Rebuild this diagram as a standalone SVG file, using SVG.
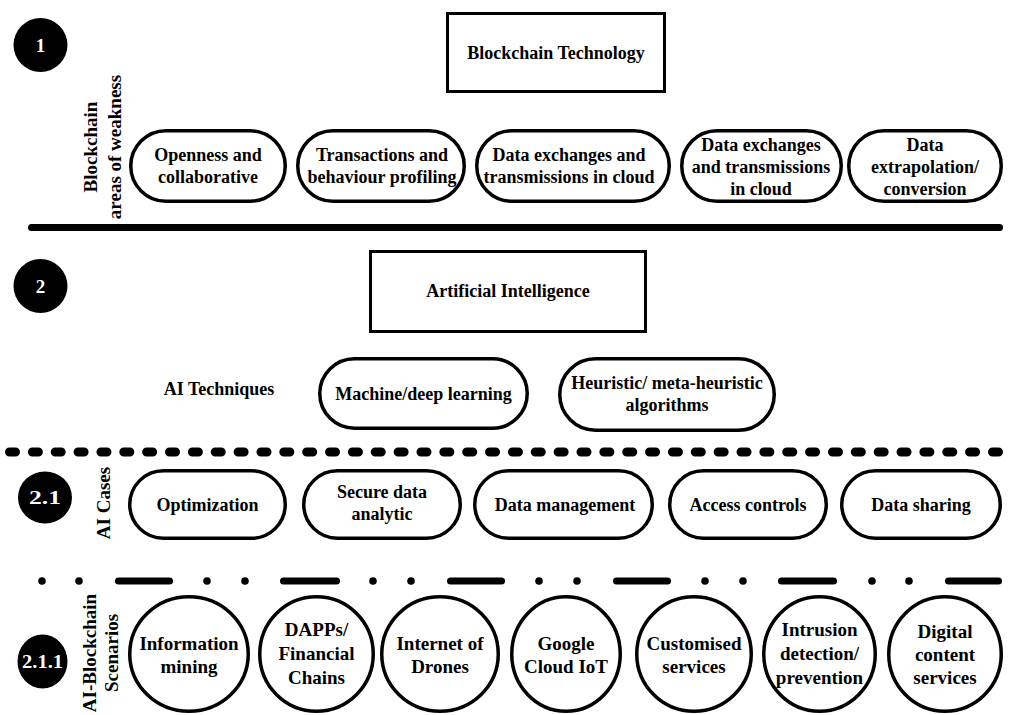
<svg xmlns="http://www.w3.org/2000/svg" width="1012" height="715" viewBox="0 0 1012 715">
<style>
text{font-family:"Liberation Serif","Times New Roman",serif;font-weight:bold;fill:#000;}
.t{font-size:18px;text-anchor:middle;}
.s{font-size:19px;text-anchor:middle;}
.v{font-size:19px;text-anchor:middle;}
.n{font-size:19px;text-anchor:middle;fill:#fff;}
.pill{fill:#fff;stroke:#000;stroke-width:3.5;}
.box{fill:#fff;stroke:#000;stroke-width:3;}
.num{fill:#000;}
</style>
<rect width="1012" height="715" fill="#fff"/>
<g id="separators">
<line x1="31.5" y1="227.5" x2="999.5" y2="227.5" stroke="#000" stroke-width="7" stroke-linecap="round"/>
<path d="M9.5 452 H999" fill="none" stroke="#000" stroke-width="9" stroke-linecap="round" stroke-dasharray="6 16.86"/>
<g fill="#000">
<circle cx="42" cy="581" r="3.8"/><circle cx="79" cy="581" r="3.8"/>
<circle cx="207" cy="581" r="3.8"/><circle cx="245" cy="581" r="3.8"/>
<circle cx="373" cy="581" r="3.8"/><circle cx="411" cy="581" r="3.8"/>
<circle cx="539" cy="581" r="3.8"/><circle cx="577" cy="581" r="3.8"/>
<circle cx="705" cy="581" r="3.8"/><circle cx="743" cy="581" r="3.8"/>
<circle cx="872" cy="581" r="3.8"/><circle cx="909" cy="581" r="3.8"/>
</g>
<g stroke="#000" stroke-width="7" stroke-linecap="round">
<line x1="118.5" y1="581" x2="169.5" y2="581"/>
<line x1="283.5" y1="581" x2="336.5" y2="581"/>
<line x1="450.5" y1="581" x2="501.5" y2="581"/>
<line x1="616.5" y1="581" x2="667.5" y2="581"/>
<line x1="781.5" y1="581" x2="833.5" y2="581"/>
<line x1="948.5" y1="581" x2="998.5" y2="581"/>
</g>
</g>
<g id="connectors"></g>

<g id="marker1"><circle class="num" cx="40.5" cy="45" r="27"/><text class="n" x="40.5" y="51.5">1</text></g>
<g id="marker2"><circle class="num" cx="40.5" cy="286" r="27"/><text class="n" x="40.5" y="292.5">2</text></g>
<g id="marker21"><ellipse class="num" cx="45" cy="497.5" rx="27" ry="26"/><text class="n" x="45" y="504" textLength="32" lengthAdjust="spacingAndGlyphs">2.1</text></g>
<g id="marker211"><ellipse class="num" cx="42.5" cy="661.5" rx="25" ry="27"/><text class="n" x="42.5" y="668" textLength="41" lengthAdjust="spacingAndGlyphs">2.1.1</text></g>

<g id="label-weakness">
<text class="v" transform="translate(97 147) rotate(-90)">Blockchain</text>
<text class="v" transform="translate(121 147) rotate(-90)">areas of weakness</text>
</g>
<g id="label-cases"><text class="v" transform="translate(110 503) rotate(-90)">AI Cases</text></g>
<g id="label-scenarios">
<text class="v" transform="translate(96 653) rotate(-90)">AI-Blockchain</text>
<text class="v" transform="translate(118 653) rotate(-90)">Scenarios</text>
</g>
<g id="label-techniques"><text class="t" x="219" y="395">AI Techniques</text></g>

<g id="blockchain"><rect class="box" x="447.5" y="13.5" width="217" height="78"/><text class="t" x="556" y="59">Blockchain Technology</text></g>
<g id="w1"><rect class="pill" x="130.75" y="130.75" width="154.5" height="70.5" rx="35.25"/><text class="t" x="208" y="161">Openness and</text><text class="t" x="208" y="183">collaborative</text></g>
<g id="w2"><rect class="pill" x="297.75" y="130.75" width="166.5" height="70.5" rx="35.25"/><text class="t" x="382" y="161">Transactions and</text><text class="t" x="382" y="183">behaviour profiling</text></g>
<g id="w3"><rect class="pill" x="476.75" y="130.75" width="192.5" height="70.5" rx="35.25"/><text class="t" x="569" y="161">Data exchanges and</text><text class="t" x="569" y="183">transmissions in cloud</text></g>
<g id="w4"><rect class="pill" x="681.75" y="130.75" width="159.5" height="70.5" rx="35.25"/><text class="t" x="761" y="151">Data exchanges</text><text class="t" x="761" y="173">and transmissions</text><text class="t" x="761" y="195">in cloud</text></g>
<g id="w5"><rect class="pill" x="848.75" y="130.75" width="152.5" height="70.5" rx="35.25"/><text class="t" x="925" y="151">Data</text><text class="t" x="925" y="173">extrapolation/</text><text class="t" x="925" y="195">conversion</text></g>

<g id="ai"><rect class="box" x="370.5" y="251.5" width="275" height="80"/><text class="t" x="508" y="297">Artificial Intelligence</text></g>
<g id="tech1"><rect class="pill" x="319.75" y="358.75" width="207.5" height="69.5" rx="34.75"/><text class="t" x="423.5" y="400">Machine/deep learning</text></g>
<g id="tech2"><rect class="pill" x="559.75" y="358.75" width="214.5" height="71.5" rx="35.75"/><text class="t" x="667" y="389">Heuristic/ meta-heuristic</text><text class="t" x="667" y="411">algorithms</text></g>

<g id="c1"><rect class="pill" x="129.75" y="470.75" width="155.5" height="67.5" rx="33.75"/><text class="t" x="207.5" y="511">Optimization</text></g>
<g id="c2"><rect class="pill" x="303.75" y="470.75" width="156.5" height="67.5" rx="33.75"/><text class="t" x="382" y="498">Secure data</text><text class="t" x="382" y="520">analytic</text></g>
<g id="c3"><rect class="pill" x="474.75" y="470.75" width="177.5" height="67.5" rx="33.75"/><text class="t" x="565" y="511">Data management</text></g>
<g id="c4"><rect class="pill" x="669.75" y="470.75" width="156.5" height="67.5" rx="33.75"/><text class="t" x="748" y="511">Access controls</text></g>
<g id="c5"><rect class="pill" x="841.75" y="470.75" width="158.5" height="67.5" rx="33.75"/><text class="t" x="921" y="511">Data sharing</text></g>

<g id="s1"><ellipse class="pill" cx="189" cy="654" rx="59.25" ry="57.25"/><text class="s" x="189" y="650">Information</text><text class="s" x="189" y="673">mining</text></g>
<g id="s2"><ellipse class="pill" cx="316.5" cy="654" rx="56.75" ry="57.25"/><text class="s" x="316.5" y="636">DAPPs/</text><text class="s" x="316.5" y="660">Financial</text><text class="s" x="316.5" y="684">Chains</text></g>
<g id="s3"><ellipse class="pill" cx="440" cy="654" rx="58.25" ry="57.25"/><text class="s" x="440" y="650">Internet of</text><text class="s" x="440" y="673">Drones</text></g>
<g id="s4"><ellipse class="pill" cx="566" cy="654" rx="54.25" ry="57.25"/><text class="s" x="566" y="650">Google</text><text class="s" x="566" y="673">Cloud IoT</text></g>
<g id="s5"><ellipse class="pill" cx="694" cy="654" rx="57.25" ry="57.25"/><text class="s" x="694" y="650">Customised</text><text class="s" x="694" y="673">services</text></g>
<g id="s6"><ellipse class="pill" cx="819.5" cy="654" rx="55.75" ry="57.25"/><text class="s" x="819.5" y="636">Intrusion</text><text class="s" x="819.5" y="660">detection/</text><text class="s" x="819.5" y="684">prevention</text></g>
<g id="s7"><ellipse class="pill" cx="945" cy="654" rx="56.25" ry="57.25"/><text class="s" x="945" y="638">Digital</text><text class="s" x="945" y="661">content</text><text class="s" x="945" y="684">services</text></g>
</svg>
